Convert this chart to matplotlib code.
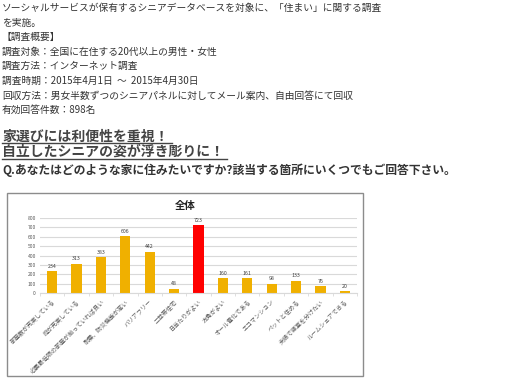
import matplotlib
matplotlib.use("Agg")
import matplotlib.pyplot as plt
from matplotlib.patches import Rectangle
from matplotlib.lines import Line2D

plt.rcParams['font.family'] = ['Noto Sans CJK JP', 'DejaVu Sans']

# データ
categories = [
    "部屋数が充実している",
    "庭が充実している",
    "必要最低限の部屋が揃っていれば良い",
    "耐震、防災機能が高い",
    "バリアフリー",
    "二世帯住宅",
    "日当たりがよい",
    "方角がよい",
    "オール電化である",
    "エコマンション",
    "ペットと住める",
    "夫婦で寝室を分けたい",
    "ルームシェアできる",
]
values = [234, 313, 383, 606, 442, 48, 723, 160, 161, 98, 133, 76, 20]
highlight = "日当たりがよい"
y_ticks = [0, 100, 200, 300, 400, 500, 600, 700, 800]

intro_lines = [
    "ソーシャルサービスが保有するシニアデータベースを対象に、「住まい」に関する調査",
    "を実施。",
    "【調査概要】",
    "調査対象：全国に在住する20代以上の男性・女性",
    "調査方法：インターネット調査",
    "調査時期：2015年4月1日  ～  2015年4月30日",
    "回収方法：男女半数ずつのシニアパネルに対してメール案内、自由回答にて回収",
    "有効回答件数：898名",
]
headlines = ["家選びには利便性を重視！", "自立したシニアの姿が浮き彫りに！"]
question = "Q.あなたはどのような家に住みたいですか?該当する箇所にいくつでもご回答下さい。"

W, H = 511, 386
fig = plt.figure(figsize=(W / 100, H / 100), dpi=100)


def fx(px):
    return px / W


def fy(py):
    return 1 - py / H


# 上部テキスト
for i, line in enumerate(intro_lines):
    fig.text(fx(2), fy(8 + i * 14.6), line, fontsize=7.0, color="#333333",
             va="center", ha="left")

for i, line in enumerate(headlines):
    y = 136.5 + i * 15.5
    t = fig.text(fx(2), fy(y), line, fontsize=10, color="#444444",
                 fontweight="bold", va="center", ha="left")
    fig.canvas.draw()
    bb = t.get_window_extent()
    fig.add_artist(Line2D([fx(2), bb.x1 / W + fx(3)], [fy(y + 6.5), fy(y + 6.5)],
                          color="#444444", lw=1))

fig.text(fx(2), fy(170.5), question, fontsize=8.5, color="#333333",
         fontweight="bold", va="center", ha="left")

# グラフ枠
fig.add_artist(Rectangle((fx(7), fy(376)), fx(356), (376 - 193) / H,
                         fill=False, edgecolor="#8c8c8c", lw=1))
fig.text(fx(185), fy(205.5), "全体", fontsize=7.5, fontweight="bold",
         color="#222222", ha="center", va="center")

ax = fig.add_axes([fx(40), fy(293), fx(317), 75 / H])
colors = ["#FF0000" if c == highlight else "#F0B000" for c in categories]
x = range(len(categories))
bars = ax.bar(x, values, width=0.42, color=colors)

for xi, v in zip(x, values):
    ax.text(xi, v + 25, str(v), ha="center", va="bottom", fontsize=3.8,
            color="#404040")

ax.set_ylim(0, 800)
ax.set_xlim(-0.5, len(categories) - 0.5)
ax.set_yticks(y_ticks)
ax.set_yticklabels([str(t) for t in y_ticks], fontsize=3.6, color="#595959")
ax.yaxis.grid(True, color="#d9d9d9", lw=0.8)
ax.set_axisbelow(True)
ax.tick_params(axis="y", length=0, pad=3)
for s in ["top", "right", "left"]:
    ax.spines[s].set_visible(False)
ax.spines["bottom"].set_color("#d9d9d9")

ax.set_xticks([i + 0.5 for i in range(-1, len(categories))], minor=True)
ax.set_xticks(list(x))
ax.set_xticklabels(categories, rotation=45, ha="right", rotation_mode="anchor",
                   fontsize=4.3, color="#595959")
ax.tick_params(axis="x", which="major", length=0, pad=4)
ax.tick_params(axis="x", which="minor", length=2, color="#d9d9d9")

fig.savefig("out.png", dpi=100)
